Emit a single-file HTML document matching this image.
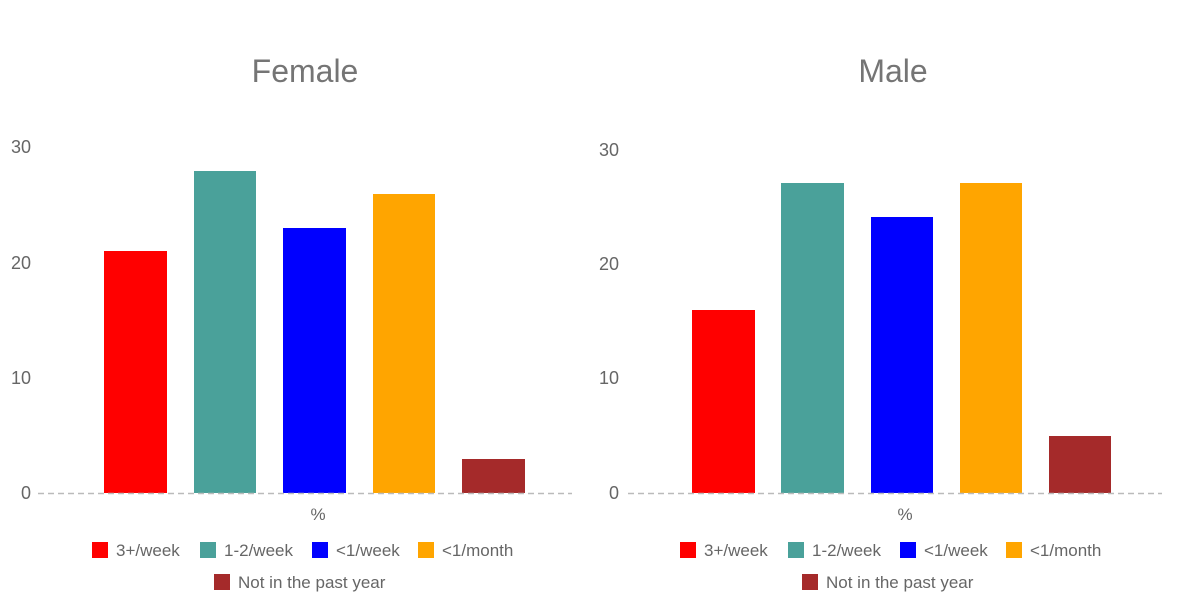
<!DOCTYPE html>
<html><head><meta charset="utf-8"><style>
html,body{margin:0;padding:0;background:#fff;}
svg{display:block;font-family:"Liberation Sans",sans-serif;}
</style></head><body>
<svg width="1200" height="607" viewBox="0 0 1200 607">
<rect width="1200" height="607" fill="#fff"/>
<g fill="#757575">
<text x="305" y="82" font-size="32" text-anchor="middle">Female</text>
<text x="893" y="82" font-size="32" text-anchor="middle">Male</text>
</g>
<g fill="#666" font-size="18" text-anchor="end">
<text x="31" y="153">30</text><text x="31" y="269">20</text><text x="31" y="384">10</text><text x="31" y="499">0</text>
<text x="619" y="156">30</text><text x="619" y="270">20</text><text x="619" y="384">10</text><text x="619" y="499">0</text>
</g>
<rect x="104" y="251" width="63" height="242" fill="#ff0000"/>
<rect x="194" y="171" width="62" height="322" fill="#4aa19a"/>
<rect x="283" y="228" width="63" height="265" fill="#0000ff"/>
<rect x="373" y="194" width="62" height="299" fill="#ffa500"/>
<rect x="462" y="459" width="63" height="34" fill="#a52a2a"/>
<rect x="692" y="310" width="63" height="183" fill="#ff0000"/>
<rect x="781" y="183" width="63" height="310" fill="#4aa19a"/>
<rect x="871" y="217" width="62" height="276" fill="#0000ff"/>
<rect x="960" y="183" width="62" height="310" fill="#ffa500"/>
<rect x="1049" y="436" width="62" height="57" fill="#a52a2a"/>
<g stroke="#bbb" stroke-width="1.5" stroke-dasharray="6,4">
<line x1="38" y1="493.5" x2="572" y2="493.5"/>
<line x1="628" y1="493.5" x2="1162" y2="493.5"/>
</g>
<g fill="#666" font-size="17" text-anchor="middle">
<text x="318" y="520">%</text><text x="905" y="520">%</text>
</g>
<g font-size="17" fill="#666">
<rect x="92" y="542" width="16" height="16" fill="#ff0000"/><text x="116" y="556">3+/week</text>
<rect x="200" y="542" width="16" height="16" fill="#4aa19a"/><text x="224" y="556">1-2/week</text>
<rect x="312" y="542" width="16" height="16" fill="#0000ff"/><text x="336" y="556">&lt;1/week</text>
<rect x="418" y="542" width="16" height="16" fill="#ffa500"/><text x="442" y="556">&lt;1/month</text>
<rect x="214" y="574" width="16" height="16" fill="#a52a2a"/><text x="238" y="588">Not in the past year</text>
<rect x="680" y="542" width="16" height="16" fill="#ff0000"/><text x="704" y="556">3+/week</text>
<rect x="788" y="542" width="16" height="16" fill="#4aa19a"/><text x="812" y="556">1-2/week</text>
<rect x="900" y="542" width="16" height="16" fill="#0000ff"/><text x="924" y="556">&lt;1/week</text>
<rect x="1006" y="542" width="16" height="16" fill="#ffa500"/><text x="1030" y="556">&lt;1/month</text>
<rect x="802" y="574" width="16" height="16" fill="#a52a2a"/><text x="826" y="588">Not in the past year</text>
</g>
</svg>
</body></html>
